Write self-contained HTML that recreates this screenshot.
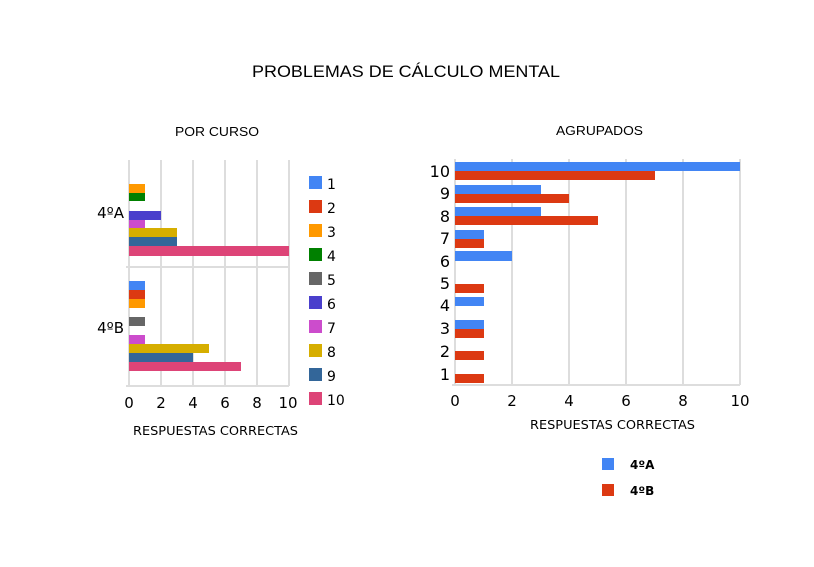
<!DOCTYPE html><html><head><style>body{margin:0;background:#fff}svg{display:block}text{font-family:"DejaVu Sans","Liberation Sans",sans-serif;fill:#000}</style></head><body>
<svg width="814" height="567" viewBox="0 0 814 567">
<text x="252" y="77" font-size="17" textLength="308" lengthAdjust="spacingAndGlyphs" style="font-family:'Liberation Sans',sans-serif">PROBLEMAS DE CÁLCULO MENTAL</text>
<text x="175" y="136" font-size="13" textLength="84" lengthAdjust="spacingAndGlyphs" style="font-family:'Liberation Sans',sans-serif">POR CURSO</text>
<text x="556" y="135" font-size="13" textLength="87" lengthAdjust="spacingAndGlyphs" style="font-family:'Liberation Sans',sans-serif">AGRUPADOS</text>
<g stroke="#ddd" stroke-width="2">
<line x1="129" y1="160" x2="129" y2="386"/><line x1="161" y1="160" x2="161" y2="386"/><line x1="193" y1="160" x2="193" y2="386"/><line x1="225" y1="160" x2="225" y2="386"/><line x1="257" y1="160" x2="257" y2="386"/><line x1="289" y1="160" x2="289" y2="386"/>
<line x1="126" y1="267" x2="289" y2="267"/><line x1="126" y1="386" x2="289" y2="386"/>
</g>
<g>
<rect x="129" y="184" width="16" height="9" fill="#ff9900"/>
<rect x="129" y="193" width="16" height="8" fill="#008000"/>
<rect x="129" y="211" width="32" height="9" fill="#4a3fcc"/>
<rect x="129" y="220" width="16" height="8" fill="#cc4ccc"/>
<rect x="129" y="228" width="48" height="9" fill="#d6ae00"/>
<rect x="129" y="237" width="48" height="9" fill="#336699"/>
<rect x="129" y="246" width="160" height="10" fill="#dd4477"/>
<rect x="129" y="281" width="16" height="9" fill="#4285f4"/>
<rect x="129" y="290" width="16" height="9" fill="#dc3912"/>
<rect x="129" y="299" width="16" height="9" fill="#ff9900"/>
<rect x="129" y="317" width="16" height="9" fill="#666666"/>
<rect x="129" y="335" width="16" height="9" fill="#cc4ccc"/>
<rect x="129" y="344" width="80" height="9" fill="#d6ae00"/>
<rect x="129" y="353" width="64" height="9" fill="#336699"/>
<rect x="129" y="362" width="112" height="9" fill="#dd4477"/>
</g>
<text x="124" y="218" font-size="15" text-anchor="end">4ºA</text>
<text x="124" y="333" font-size="15" text-anchor="end">4ºB</text>
<g font-size="15" text-anchor="middle">
<text x="129" y="408">0</text><text x="161" y="408">2</text><text x="193" y="408">4</text><text x="225" y="408">6</text><text x="257" y="408">8</text><text x="288" y="408">10</text></g>
<text x="133" y="435" font-size="12" textLength="165" lengthAdjust="spacingAndGlyphs">RESPUESTAS CORRECTAS</text>
<g font-size="14">
<rect x="309" y="176" width="13" height="13" fill="#4285f4"/><text x="327" y="189">1</text>
<rect x="309" y="200" width="13" height="13" fill="#dc3912"/><text x="327" y="213">2</text>
<rect x="309" y="224" width="13" height="13" fill="#ff9900"/><text x="327" y="237">3</text>
<rect x="309" y="248" width="13" height="13" fill="#008000"/><text x="327" y="261">4</text>
<rect x="309" y="272" width="13" height="13" fill="#666666"/><text x="327" y="285">5</text>
<rect x="309" y="296" width="13" height="13" fill="#4a3fcc"/><text x="327" y="309">6</text>
<rect x="309" y="320" width="13" height="13" fill="#cc4ccc"/><text x="327" y="333">7</text>
<rect x="309" y="344" width="13" height="13" fill="#d6ae00"/><text x="327" y="357">8</text>
<rect x="309" y="368" width="13" height="13" fill="#336699"/><text x="327" y="381">9</text>
<rect x="309" y="392" width="13" height="13" fill="#dd4477"/><text x="327" y="405">10</text>
</g>
<g stroke="#ddd" stroke-width="2">
<line x1="455" y1="159" x2="455" y2="385"/><line x1="512" y1="159" x2="512" y2="385"/><line x1="569" y1="159" x2="569" y2="385"/><line x1="626" y1="159" x2="626" y2="385"/><line x1="683" y1="159" x2="683" y2="385"/><line x1="740" y1="159" x2="740" y2="385"/>
<line x1="452" y1="385" x2="740" y2="385"/>
</g>
<g fill="#4285f4">
<rect x="455" y="162" width="285" height="9"/><rect x="455" y="185" width="86" height="9"/><rect x="455" y="207" width="86" height="9"/><rect x="455" y="230" width="29" height="9"/><rect x="455" y="251" width="57" height="10"/><rect x="455" y="297" width="29" height="9"/><rect x="455" y="320" width="29" height="9"/>
</g>
<g fill="#dc3912">
<rect x="455" y="171" width="200" height="9"/><rect x="455" y="194" width="114" height="9"/><rect x="455" y="216" width="143" height="9"/><rect x="455" y="239" width="29" height="9"/><rect x="455" y="284" width="29" height="9"/><rect x="455" y="329" width="29" height="9"/><rect x="455" y="351" width="29" height="9"/><rect x="455" y="374" width="29" height="9"/>
</g>
<g font-size="16" text-anchor="end">
<text x="450" y="177">10</text><text x="450" y="199">9</text><text x="450" y="222">8</text><text x="450" y="244">7</text><text x="450" y="267">6</text><text x="450" y="289">5</text><text x="450" y="311">4</text><text x="450" y="334">3</text><text x="450" y="357">2</text><text x="450" y="380">1</text>
</g>
<g font-size="15" text-anchor="middle">
<text x="455" y="406">0</text><text x="512" y="406">2</text><text x="569" y="406">4</text><text x="626" y="406">6</text><text x="683" y="406">8</text><text x="740" y="406">10</text></g>
<text x="530" y="429" font-size="12" textLength="165" lengthAdjust="spacingAndGlyphs">RESPUESTAS CORRECTAS</text>
<rect x="602" y="458" width="12" height="12" fill="#4285f4"/><text x="630" y="469" font-size="12" font-weight="bold" fill="#333">4ºA</text>
<rect x="602" y="484" width="12" height="12" fill="#dc3912"/><text x="630" y="495" font-size="12" font-weight="bold" fill="#333">4ºB</text>
</svg></body></html>
